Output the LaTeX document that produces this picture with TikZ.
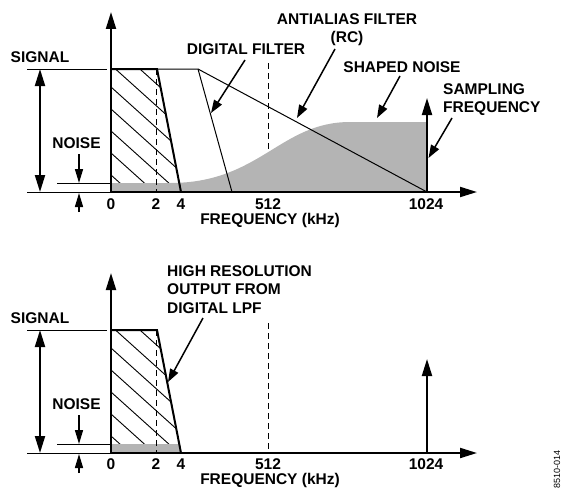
\documentclass[tikz,border=0pt]{standalone}
\usepackage{fontspec}
\setmainfont{Liberation Sans}
\usetikzlibrary{arrows.meta}
\definecolor{noisegray}{RGB}{180,180,180}
\begin{document}
\begin{tikzpicture}[x=1pt,y=-1pt,
  lbl/.style={font=\bfseries\fontsize{15.5}{18.5}\selectfont, inner sep=0pt, anchor=base},
  lblblock/.style={font=\bfseries\fontsize{15.5}{18.5}\selectfont, inner sep=0pt},
  axisline/.style={line width=2pt,-{Triangle[length=17pt,width=10pt]}},
  dblarrow/.style={line width=2pt,{Triangle[length=17pt,width=10pt]}-{Triangle[length=17pt,width=10pt]}},
  callout/.style={line width=1.5pt,-{Triangle[length=13pt,width=9pt]}},
  noisearrow/.style={line width=1.5pt,-{Triangle[length=14pt,width=8pt]}},
  thinline/.style={line width=1pt},
  thickline/.style={line width=2pt,line join=miter},
  dashline/.style={line width=1pt,dash pattern=on 6pt off 4pt},
  noisefill/.style={fill=noisegray,draw=none},
  hatchline/.style={line width=0.9pt},
  idnote/.style={font=\fontsize{9}{10}\selectfont, inner sep=0pt, rotate=90}
]
\useasboundingbox (0,0) rectangle (561,495);

% ================= TOP PANEL =================
\coordinate (o1) at (111,192);
\coordinate (yt1) at (111,12);
\coordinate (xt1) at (477,192);
\coordinate (s1) at (111,69);
\coordinate (c1) at (157,69);
\coordinate (f1) at (181,192);
\coordinate (k1) at (198,69);
\coordinate (fs1) at (427,192);
\coordinate (fst1) at (427,98);

% dashed 512 line (behind noise)
\draw[dashline] (268,63) -- (268,192);
% hatching
\begin{scope}
  \clip (s1) -- (c1) -- (f1) -- (o1) -- cycle;
  \foreach \c in {21,43,...,197} \draw[hatchline] (111,\c) -- ++(150,135);
\end{scope}
% shaped noise
\fill[noisefill] (111,183) -- (170,183) .. controls (260,183) and (280,122) .. (350,122) -- (427,122) -- (427,192) -- (111,192) -- cycle;
% dashed 2 kHz line
\draw[dashline] (156,69) -- (156,192);
% filters
\draw[thinline] (c1) -- (k1) -- (fs1);
\draw[thinline] (k1) -- (232,192);
\draw[thickline] (s1) -- (c1) -- (f1);
% axes
\draw[axisline] (o1) -- (yt1);
\draw[axisline] (o1) -- (xt1);
\draw[axisline] (fs1) -- (fst1);
% left level lines
\draw[thinline] (27,69) -- (107,69);
\draw[thinline] (27,192) -- (o1);
\draw[thinline] (57,183) -- (111,183);
\draw[dblarrow] (40,69) -- (40,192);
\draw[noisearrow] (79,154) -- (79,183);
\draw[noisearrow] (79,212) -- (79,193);
% labels
\node[lbl] (sig1) at (40,62) {SIGNAL};
\node[lbl] (noi1) at (76.5,148) {NOISE};
\node[lbl] (t01) at (111,209.5) {0};
\node[lbl] (t21) at (156,209.5) {2};
\node[lbl] (t41) at (181,209.5) {4};
\node[lbl] (t5121) at (268,209.5) {512};
\node[lbl] (t10241) at (426,209.5) {1024};
\node[lbl] (fq1) at (270,224.5) {FREQUENCY (kHz)};
\node[lbl] (dig1) at (246,55) {DIGITAL FILTER};
\node[lblblock,anchor=north,align=center] (aa1) at (347,13) {ANTIALIAS FILTER\\(RC)};
\node[lbl] (sn1) at (402,72) {SHAPED NOISE};
\node[lblblock,anchor=north west,align=left] (sf1) at (443,83) {SAMPLING\\FREQUENCY};
% callouts
\coordinate (dA) at (245,60);   \coordinate (dB) at (211,113);
\coordinate (aA) at (335,49);   \coordinate (aB) at (297,118);
\coordinate (nA) at (400,76);   \coordinate (nB) at (377,118);
\coordinate (sA) at (452,118);  \coordinate (sB) at (428.5,158);
\draw[callout] (dA) -- (dB);
\draw[callout] (aA) -- (aB);
\draw[callout] (nA) -- (nB);
\draw[callout] (sA) -- (sB);

% ================= BOTTOM PANEL =================
\coordinate (o2) at (111,453);
\coordinate (yt2) at (111,273);
\coordinate (xt2) at (477,453);
\coordinate (s2) at (111,330);
\coordinate (c2) at (157,330);
\coordinate (f2) at (181,453);
\coordinate (fs2) at (427,453);
\coordinate (fst2) at (427,359);

\draw[dashline] (268,323) -- (268,453);
\begin{scope}
  \clip (s2) -- (c2) -- (f2) -- (o2) -- cycle;
  \foreach \c in {282,304,...,458} \draw[hatchline] (111,\c) -- ++(150,135);
\end{scope}
\fill[noisefill] (111,444) -- (179.2,444) -- (f2) -- (o2) -- cycle;
\draw[dashline] (156,330) -- (156,453);
\draw[thickline] (s2) -- (c2) -- (f2);
\draw[axisline] (o2) -- (yt2);
\draw[axisline] (o2) -- (xt2);
\draw[axisline] (fs2) -- (fst2);
\draw[thinline] (27,330) -- (107,330);
\draw[thinline] (27,453) -- (o2);
\draw[thinline] (57,444) -- (111,444);
\draw[dblarrow] (40,330) -- (40,453);
\draw[noisearrow] (79,415) -- (79,444);
\draw[noisearrow] (79,473) -- (79,454);
\node[lbl] (sig2) at (40,323) {SIGNAL};
\node[lbl] (noi2) at (76.5,409) {NOISE};
\node[lbl] (t02) at (111,469.5) {0};
\node[lbl] (t22) at (156,469.5) {2};
\node[lbl] (t42) at (181,469.5) {4};
\node[lbl] (t5122) at (268,469.5) {512};
\node[lbl] (t10242) at (426,469.5) {1024};
\node[lbl] (fq2) at (270,484.5) {FREQUENCY (kHz)};
\node[lblblock,anchor=north west,align=left] (hr2) at (167,265) {HIGH RESOLUTION\\OUTPUT FROM\\DIGITAL LPF};
\coordinate (hA) at (203,318);  \coordinate (hB) at (168,382);
\draw[callout] (hA) -- (hB);

\node[idnote] (id) at (557,469) {8510-014};
\end{tikzpicture}
\end{document}
